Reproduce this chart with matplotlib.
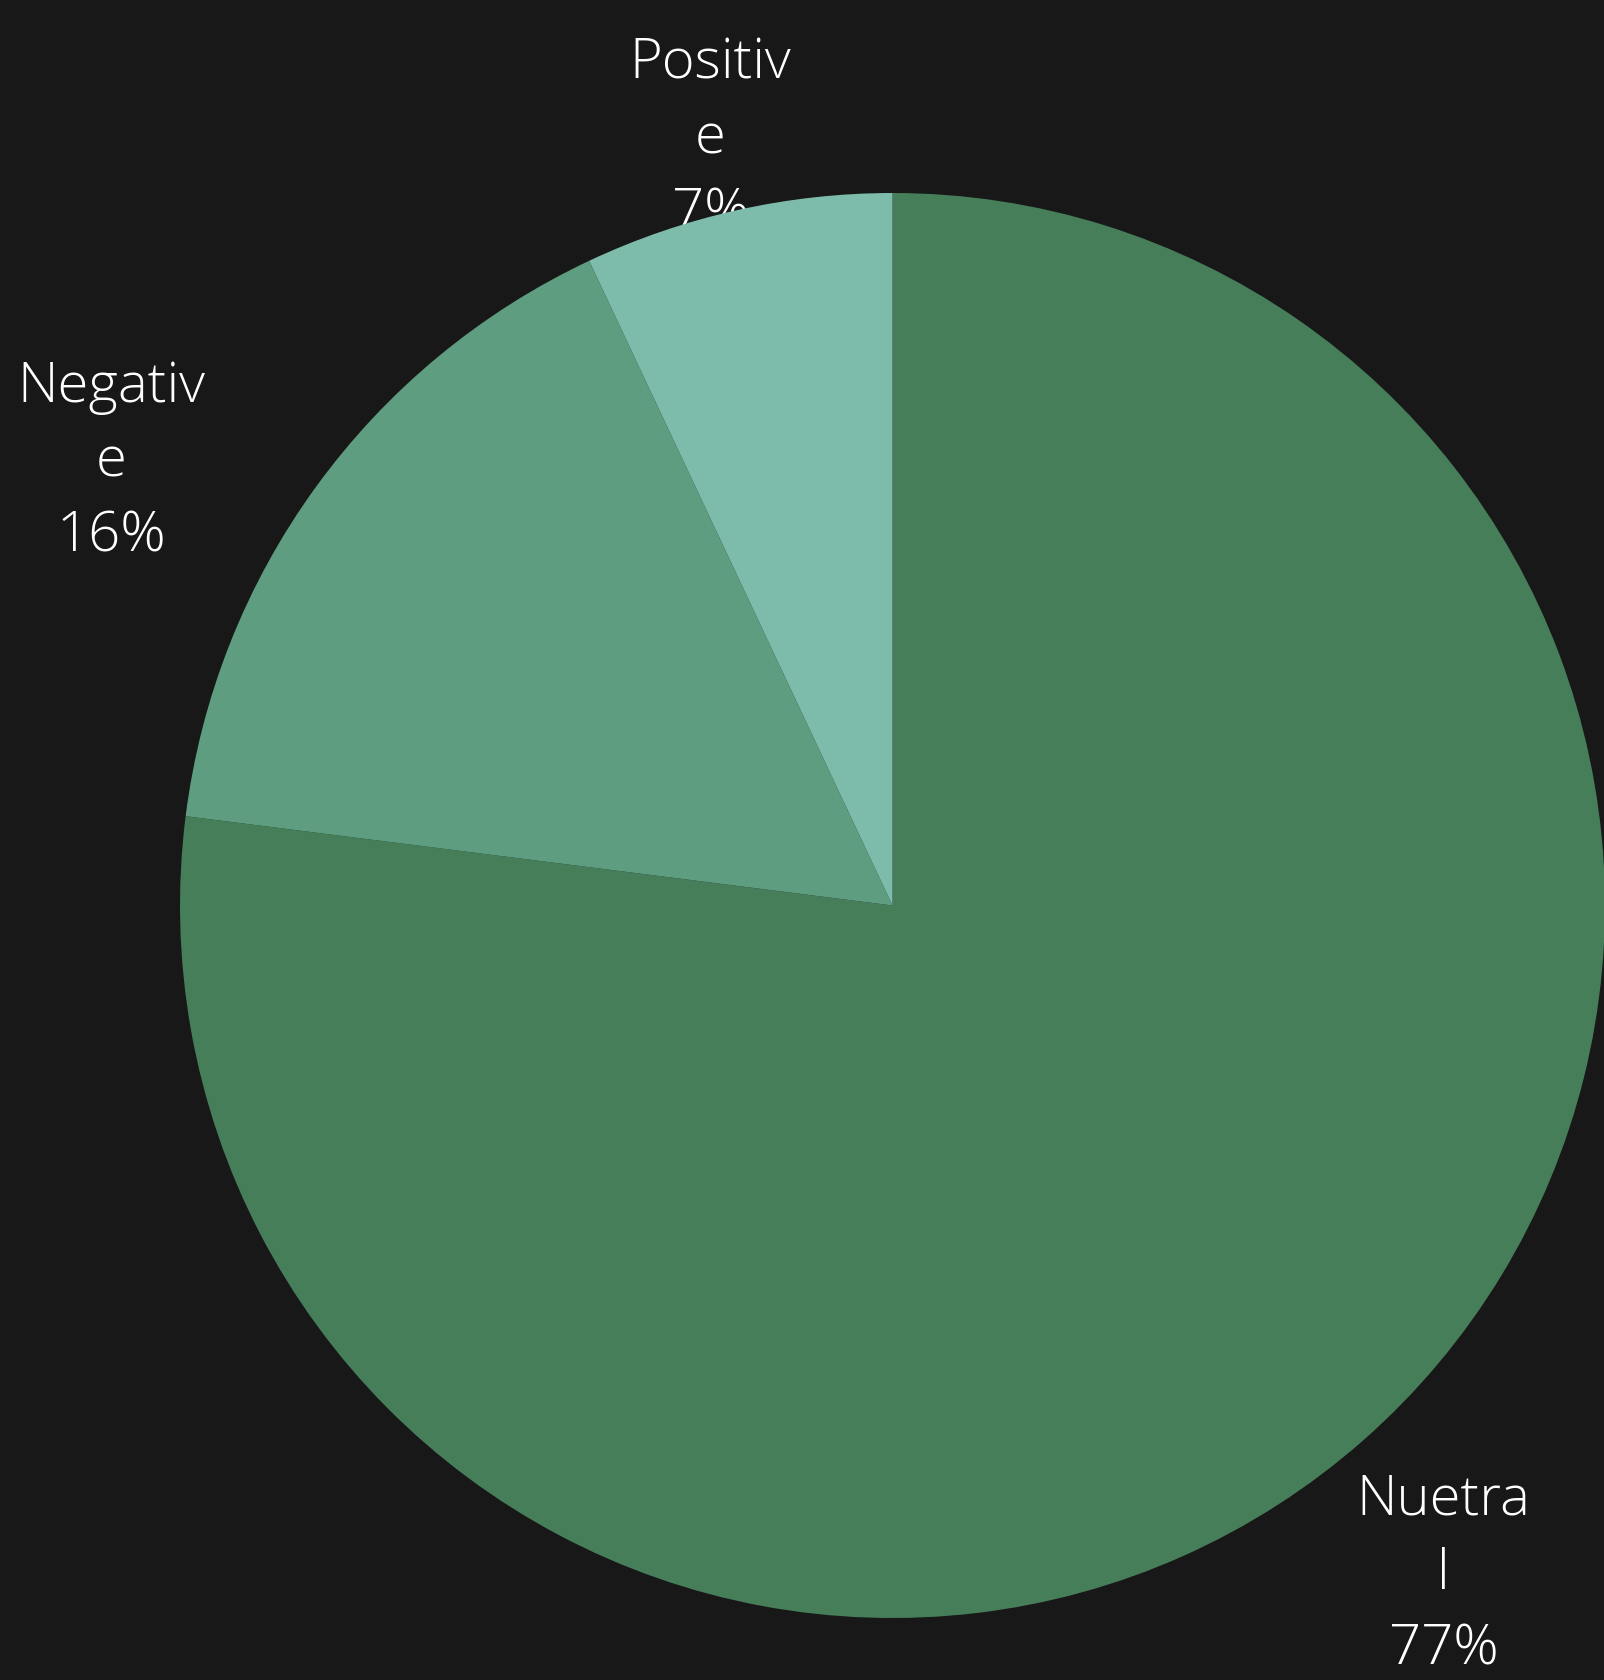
import numpy as np
import matplotlib.pyplot as plt

# sentiment split
labels = ["Nuetral", "Negative", "Positive"]
values = [77, 16, 7]
colors = ["#467e5a", "#5e9d80", "#7dbcab"]

# where each wrapped label sits (distance from centre, in radii)
label_dist = [1.217, 1.261, 1.1055]
label_angle_shift = [-1.93, 6.43, 0.76]

bg = "#181818"

fig = plt.figure(figsize=(16.04, 16.8), dpi=100, facecolor=bg)
ax = fig.add_axes([180 / 1604, 62 / 1680, 1425 / 1604, 1425 / 1680])
ax.set_facecolor(bg)

wedges, _ = ax.pie(values, colors=colors, startangle=90, counterclock=False,
                   radius=1.0, wedgeprops=dict(linewidth=0))

ax.set_xlim(-1, 1)
ax.set_ylim(-1, 1)
ax.set_aspect("equal")
ax.axis("off")

total = sum(values)
for w, lab, v, d, shift in zip(wedges, labels, values, label_dist, label_angle_shift):
    mid = np.deg2rad((w.theta1 + w.theta2) / 2 + shift)
    x, y = d * np.cos(mid), d * np.sin(mid)
    # labels wrap mid-word like the original chart
    cut = len(lab) - 1
    text = f"{lab[:cut]}\n{lab[cut:]}\n{round(100 * v / total)}%"
    ax.text(x, y, text, ha="center", va="center", color="white",
            fontsize=40.5, family="Open Sans", fontweight="light",
            linespacing=1.47, clip_on=False, zorder=0)

fig.savefig("out.png", dpi=100, facecolor=bg)
